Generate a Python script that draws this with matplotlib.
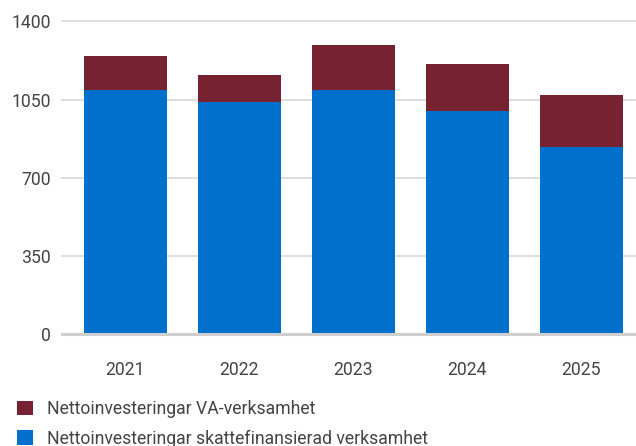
import matplotlib
matplotlib.use("Agg")
import matplotlib.pyplot as plt
from matplotlib.patches import Patch

years = ["2021", "2022", "2023", "2024", "2025"]
skattefinansierad = [1093, 1041, 1093, 1000, 838]
va_verksamhet = [153, 119, 202, 210, 233]
yticks = [0, 350, 700, 1050, 1400]

blue = "#0070CD"
maroon = "#762230"
text_color = "#444444"
fs = 12.7

plt.rcParams["font.family"] = ["Roboto", "DejaVu Sans"]
plt.rcParams["font.size"] = fs

W, H = 636, 446
fig = plt.figure(figsize=(W / 100, H / 100), dpi=100)

left, right, top, bottom = 62, 636, 21.3, 334.3
ax = fig.add_axes([left / W, 1 - bottom / H, (right - left) / W, (bottom - top) / H])

x = range(len(years))
ax.bar(x, skattefinansierad, width=0.73, color=blue, zorder=3)
ax.bar(x, va_verksamhet, width=0.73, bottom=skattefinansierad, color=maroon, zorder=3)

ax.set_xlim(-0.555, 4.478)
ax.set_ylim(0, 1400)

for v in yticks[1:]:
    ax.axhline(v, color="#dcdcdc", lw=1.3, zorder=1, clip_on=False)
ax.axhline(0, color="#cfcfcf", lw=2.2, zorder=4, clip_on=False)

ax.set_xticks(list(x))
ax.set_xticklabels(years)
ax.set_yticks(yticks)
ax.set_yticklabels([str(v) for v in yticks])
ax.tick_params(axis="both", length=0, colors=text_color, labelsize=fs)
ax.tick_params(axis="x", pad=19)
ax.tick_params(axis="y", pad=8)
for s in ax.spines.values():
    s.set_visible(False)

handles = [Patch(facecolor=maroon, label="Nettoinvesteringar VA-verksamhet"),
           Patch(facecolor=blue, label="Nettoinvesteringar skattefinansierad verksamhet")]
fig.legend(handles=handles, loc="upper left", bbox_to_anchor=(17 / W, 1 - 400 / H),
           frameon=False, handlelength=0.91, handleheight=0.91, handletextpad=0.8,
           labelspacing=0.66, borderpad=0, borderaxespad=0, labelcolor=text_color,
           fontsize=fs)

fig.savefig("out.png", dpi=100)
